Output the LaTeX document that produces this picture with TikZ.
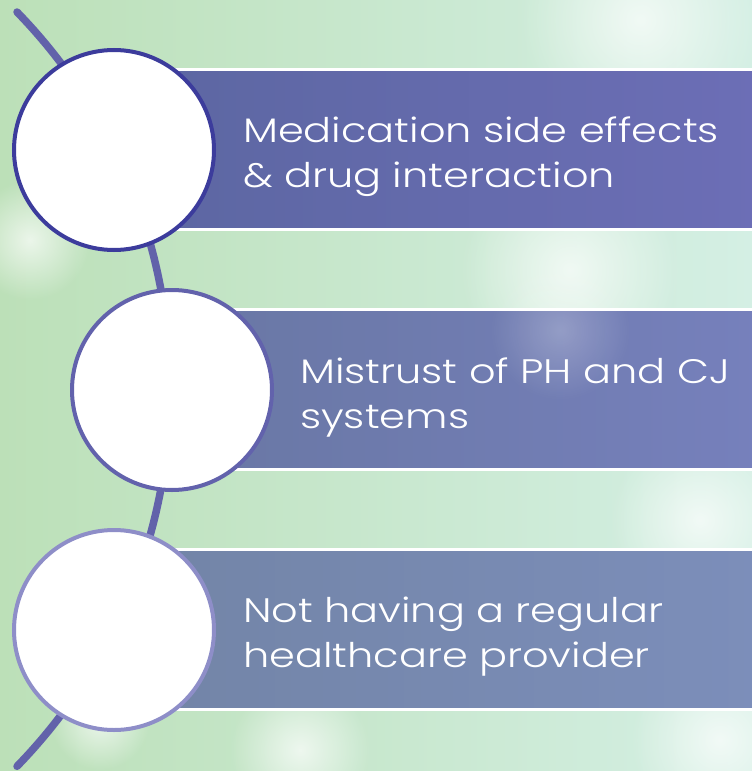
\documentclass[tikz,border=0pt]{standalone}
\usepackage{fontspec}
\setmainfont{Poppins Light}[FakeStretch=1.22]
\usetikzlibrary{fadings}
\definecolor{bgA}{HTML}{BCE0B8}
\definecolor{bgB}{HTML}{D4EFE4}
\definecolor{arcc}{HTML}{6262AA}
\definecolor{b1l}{HTML}{5D67A3}
\definecolor{b1r}{HTML}{6C6EB6}
\definecolor{b2l}{HTML}{6A78A6}
\definecolor{b2r}{HTML}{7680BC}
\definecolor{b3l}{HTML}{7385A8}
\definecolor{b3r}{HTML}{7C8EBA}
\definecolor{c1}{HTML}{3C3C9C}
\definecolor{c2}{HTML}{6262AC}
\definecolor{c3}{HTML}{8E8EC8}
\tikzset{
  bar/.style={draw=white, line width=3.5pt},
  disc/.style={circle, fill=white, line width=4pt, minimum size=200pt, inner sep=0pt},
  label/.style={text=white, align=left, anchor=west, inner sep=0pt,
    font=\fontsize{34}{45}\selectfont},
  blob/.style={fill=white, path fading=fuzzy}
}
\tikzfading[name=fuzzy, inner color=transparent!30, outer color=transparent!100]
\begin{document}
\begin{tikzpicture}[x=1pt,y=-1pt]
\useasboundingbox (0,0) rectangle (752,771);
% background
\shade[left color=bgA, right color=bgB] (0,0) rectangle (752,771);
\fill[blob] (640,20) circle (120);
\fill[blob] (570,270) circle (110);
\fill[blob] (700,520) circle (90);
\fill[blob] (720,740) circle (90);
\fill[blob] (30,240) circle (60);
\fill[blob] (300,750) circle (70);
\fill[blob] (100,720) circle (50);
% arc
\coordinate (arcTop) at (17,12);
\draw[arcc, line width=7.5pt, line cap=round] (arcTop) arc[start angle=44.2, end angle=-44.2, radius=541pt];
% bars
\shade[bar, left color=b1l, right color=b1r] (177,69.5) rectangle (760,229.5);
\shade[bar, left color=b2l, right color=b2r] (233,309.5) rectangle (760,469.5);
\shade[bar, left color=b3l, right color=b3r] (177,549.5) rectangle (760,709.5);
\fill[white, path fading=fuzzy, opacity=0.35] (560,330) circle (70);
% circles
\node[disc, draw=c1] (n1) at (114,150) {};
\node[disc, draw=c2] (n2) at (172,390) {};
\node[disc, draw=c3] (n3) at (114,630) {};
% labels
\node[label] (l1) at (243,157) {Medication side effects\\\& drug interaction};
\node[label] (l2) at (300,397) {Mistrust of PH and CJ\\systems};
\node[label] (l3) at (243,637) {Not having a regular\\healthcare provider};
\end{tikzpicture}
\end{document}
